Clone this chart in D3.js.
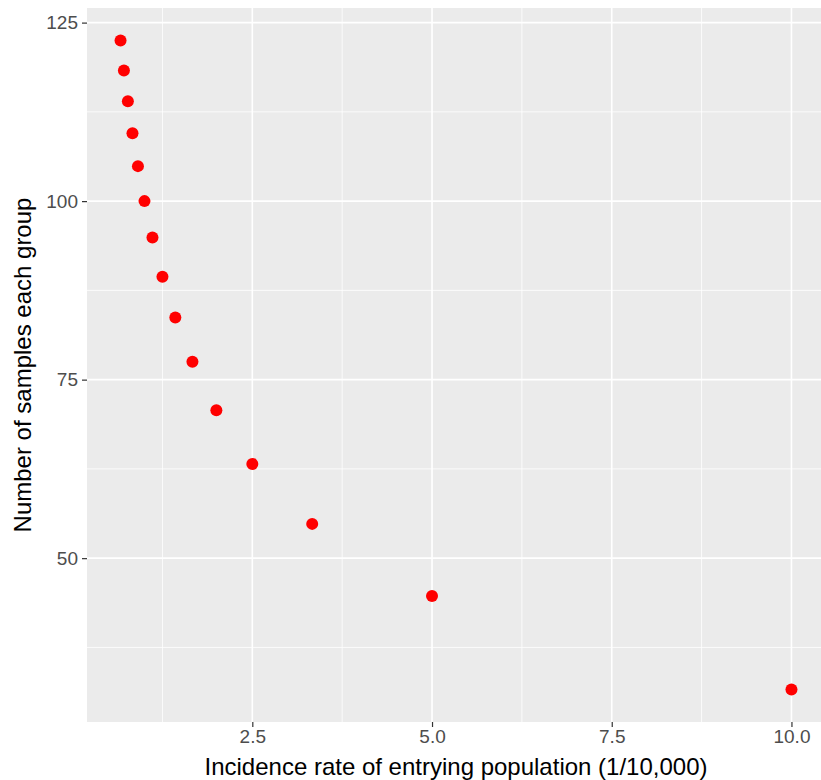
<!DOCTYPE html>
<html>
<head>
<meta charset="utf-8">
<script src="https://cdn.jsdelivr.net/npm/d3@7"></script>
<style>
  body { margin: 0; background: #fff; }
  svg { display: block; font-family: "Liberation Sans", Arial, sans-serif; }
</style>
</head>
<body>
<div id="root"></div>
<script>
// incidence rate (1/10,000) and samples per group
var incidence = [0.667, 0.714, 0.769, 0.833, 0.909, 1.0, 1.111, 1.25, 1.429, 1.667, 2.0, 2.5, 3.333, 5.0, 10.0];
var samples = [122.5, 118.3, 114.0, 109.5, 104.9, 100.0, 94.9, 89.4, 83.7, 77.5, 70.7, 63.2, 54.8, 44.7, 31.6];
var xTicks = [2.5, 5.0, 7.5, 10.0];
var xMinor = [1.25, 3.75, 6.25, 8.75];
var yTicks = [50, 75, 100, 125];
var yMinor = [37.5, 62.5, 87.5, 112.5];

function drawChart() {
    var width = 821;
    var height = 780;
    var pl = 87, pt = 8, pr = 825, pb = 722;

    var svg = d3.select("#root")
        .append("svg")
        .attr("width", width)
        .attr("height", height);

    // ggplot-style 5% expansion
    var xr = d3.extent(incidence), yr = d3.extent(samples);
    var xpad = (xr[1] - xr[0]) * 0.05, ypad = (yr[1] - yr[0]) * 0.05;
    var x = d3.scaleLinear().domain([xr[0] - xpad, xr[1] + xpad]).range([pl, pr]);
    var y = d3.scaleLinear().domain([yr[0] - ypad, yr[1] + ypad]).range([pb, pt]);

    // panel
    svg.append("rect")
        .attr("x", pl).attr("y", pt)
        .attr("width", pr - pl).attr("height", pb - pt)
        .attr("fill", "#EBEBEB");

    var grid = svg.append("g");
    grid.selectAll(".xminor").data(xMinor).enter().append("line")
        .attr("x1", d => x(d)).attr("x2", d => x(d))
        .attr("y1", pt).attr("y2", pb)
        .attr("stroke", "#fff").attr("stroke-width", 0.8);
    grid.selectAll(".yminor").data(yMinor).enter().append("line")
        .attr("y1", d => y(d)).attr("y2", d => y(d))
        .attr("x1", pl).attr("x2", pr)
        .attr("stroke", "#fff").attr("stroke-width", 0.8);
    grid.selectAll(".xmajor").data(xTicks).enter().append("line")
        .attr("x1", d => x(d)).attr("x2", d => x(d))
        .attr("y1", pt).attr("y2", pb)
        .attr("stroke", "#fff").attr("stroke-width", 1.6);
    grid.selectAll(".ymajor").data(yTicks).enter().append("line")
        .attr("y1", d => y(d)).attr("y2", d => y(d))
        .attr("x1", pl).attr("x2", pr)
        .attr("stroke", "#fff").attr("stroke-width", 1.6);

    // axes
    var x_axis = svg.append("g")
        .attr("transform", "translate(0," + pb + ")")
        .call(d3.axisBottom(x).tickValues(xTicks).tickFormat(d3.format(".1f")).tickSize(5).tickPadding(3));
    var y_axis = svg.append("g")
        .attr("transform", "translate(" + pl + ",0)")
        .call(d3.axisLeft(y).tickValues(yTicks).tickSize(5).tickPadding(4));

    [x_axis, y_axis].forEach(function (a) {
        a.select(".domain").remove();
        a.selectAll(".tick line").attr("stroke", "#333").attr("stroke-width", 1.2);
        a.selectAll(".tick text")
            .attr("fill", "#4D4D4D")
            .style("font-size", "19px")
            .style("font-family", "'Liberation Sans', Arial, sans-serif");
    });

    // points
    svg.selectAll(".marker")
        .data(incidence)
        .enter()
        .append("circle")
        .classed("marker", true)
        .attr("cx", d => x(d))
        .attr("cy", (d, i) => y(samples[i]))
        .attr("r", 6)
        .attr("fill", "#FF0000");

    // axis titles
    svg.append("text")
        .attr("x", (pl + pr) / 2).attr("y", 775)
        .attr("text-anchor", "middle")
        .style("font-size", "24px")
        .attr("fill", "#000")
        .text("Incidence rate of entrying population (1/10,000)");

    svg.append("text")
        .attr("transform", "translate(31," + ((pt + pb) / 2) + ") rotate(-90)")
        .attr("text-anchor", "middle")
        .style("font-size", "24px")
        .attr("fill", "#000")
        .text("Number of samples each group");
}

drawChart();
</script>
</body>
</html>
